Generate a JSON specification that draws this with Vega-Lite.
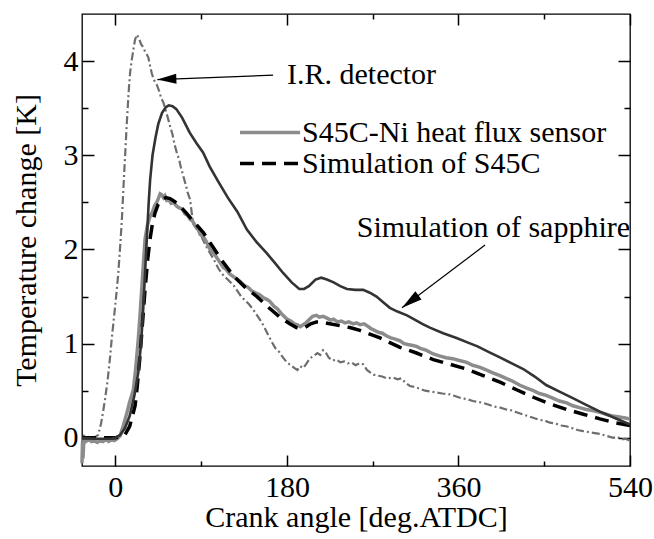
{
  "$schema": "https://vega.github.io/schema/vega-lite/v6.json",
  "width": 548,
  "height": 452,
  "autosize": {"type": "none"},
  "padding": {"left": 82, "top": 14, "right": 24, "bottom": 73},
  "background": "white",
  "config": {
    "view": {"stroke": "#000000", "strokeWidth": 1.3}
  },
  "datasets": {
    "ir": [
      {"crank": -35, "dT": -0.05}, {"crank": -33, "dT": 0.02}, {"crank": -30, "dT": 0.0}, {"crank": -27, "dT": 0.01},
      {"crank": -24, "dT": -0.01}, {"crank": -21, "dT": 0.01}, {"crank": -18, "dT": 0.03}, {"crank": -15, "dT": 0.15},
      {"crank": -12.5, "dT": 0.3}, {"crank": -10.8, "dT": 0.41}, {"crank": -8, "dT": 0.62}, {"crank": -5.5, "dT": 0.86},
      {"crank": -3.8, "dT": 1.05}, {"crank": -1, "dT": 1.32}, {"crank": 1, "dT": 1.52}, {"crank": 3.1, "dT": 1.75},
      {"crank": 5.5, "dT": 2.1}, {"crank": 7, "dT": 2.35}, {"crank": 8.4, "dT": 2.64}, {"crank": 10, "dT": 2.95},
      {"crank": 12, "dT": 3.34}, {"crank": 14, "dT": 3.68}, {"crank": 15.4, "dT": 3.87}, {"crank": 17, "dT": 4.0},
      {"crank": 18.9, "dT": 4.12}, {"crank": 20.5, "dT": 4.22}, {"crank": 22.4, "dT": 4.28}, {"crank": 24.5, "dT": 4.25},
      {"crank": 27, "dT": 4.18}, {"crank": 29, "dT": 4.15}, {"crank": 31.2, "dT": 4.1}, {"crank": 33, "dT": 4.07},
      {"crank": 34.6, "dT": 4.04}, {"crank": 36, "dT": 3.97}, {"crank": 38.2, "dT": 3.87}, {"crank": 40.5, "dT": 3.8},
      {"crank": 43.4, "dT": 3.75}, {"crank": 46, "dT": 3.68}, {"crank": 48, "dT": 3.61}, {"crank": 50.4, "dT": 3.56},
      {"crank": 53, "dT": 3.47}, {"crank": 55, "dT": 3.4}, {"crank": 57.4, "dT": 3.31}, {"crank": 60, "dT": 3.22},
      {"crank": 62, "dT": 3.12}, {"crank": 64.4, "dT": 3.03}, {"crank": 67, "dT": 2.95}, {"crank": 69, "dT": 2.86},
      {"crank": 71.3, "dT": 2.78}, {"crank": 74, "dT": 2.68}, {"crank": 76, "dT": 2.6}, {"crank": 78.4, "dT": 2.53},
      {"crank": 80, "dT": 2.4}, {"crank": 81.8, "dT": 2.27}, {"crank": 85, "dT": 2.22}, {"crank": 88.6, "dT": 2.18},
      {"crank": 92, "dT": 2.1}, {"crank": 96, "dT": 2.02}, {"crank": 100, "dT": 1.95}, {"crank": 104, "dT": 1.88},
      {"crank": 108, "dT": 1.8}, {"crank": 112, "dT": 1.74}, {"crank": 116, "dT": 1.7}, {"crank": 120, "dT": 1.66},
      {"crank": 124, "dT": 1.62}, {"crank": 128, "dT": 1.56}, {"crank": 132, "dT": 1.5}, {"crank": 136, "dT": 1.46},
      {"crank": 140, "dT": 1.42}, {"crank": 144, "dT": 1.37}, {"crank": 148, "dT": 1.31}, {"crank": 152, "dT": 1.25},
      {"crank": 156, "dT": 1.18}, {"crank": 160, "dT": 1.1}, {"crank": 164, "dT": 1.02}, {"crank": 168, "dT": 0.95},
      {"crank": 172, "dT": 0.91}, {"crank": 176, "dT": 0.85}, {"crank": 180, "dT": 0.8}, {"crank": 184, "dT": 0.77},
      {"crank": 188, "dT": 0.74}, {"crank": 191, "dT": 0.72}, {"crank": 194, "dT": 0.76}, {"crank": 197, "dT": 0.74},
      {"crank": 200, "dT": 0.78}, {"crank": 204, "dT": 0.84}, {"crank": 208, "dT": 0.87}, {"crank": 212, "dT": 0.9},
      {"crank": 215, "dT": 0.88}, {"crank": 218, "dT": 0.93}, {"crank": 221, "dT": 0.9}, {"crank": 224, "dT": 0.85},
      {"crank": 228, "dT": 0.82}, {"crank": 232, "dT": 0.83}, {"crank": 236, "dT": 0.8}, {"crank": 240, "dT": 0.81},
      {"crank": 244, "dT": 0.79}, {"crank": 248, "dT": 0.8}, {"crank": 252, "dT": 0.77}, {"crank": 256, "dT": 0.79},
      {"crank": 260, "dT": 0.78}, {"crank": 264, "dT": 0.72}, {"crank": 268, "dT": 0.69}, {"crank": 271, "dT": 0.67},
      {"crank": 275, "dT": 0.66}, {"crank": 280, "dT": 0.65}, {"crank": 285, "dT": 0.63}, {"crank": 291.7, "dT": 0.64},
      {"crank": 296, "dT": 0.62}, {"crank": 300, "dT": 0.63}, {"crank": 305, "dT": 0.58}, {"crank": 309, "dT": 0.55},
      {"crank": 314, "dT": 0.54}, {"crank": 319.7, "dT": 0.52}, {"crank": 325, "dT": 0.5}, {"crank": 331, "dT": 0.49},
      {"crank": 337, "dT": 0.48}, {"crank": 343, "dT": 0.47}, {"crank": 351, "dT": 0.46}, {"crank": 357, "dT": 0.44},
      {"crank": 363, "dT": 0.42}, {"crank": 369, "dT": 0.41}, {"crank": 375, "dT": 0.39}, {"crank": 381, "dT": 0.38},
      {"crank": 386, "dT": 0.37}, {"crank": 392, "dT": 0.35}, {"crank": 398, "dT": 0.33}, {"crank": 404, "dT": 0.32},
      {"crank": 410, "dT": 0.3}, {"crank": 416, "dT": 0.29}, {"crank": 421, "dT": 0.27}, {"crank": 427, "dT": 0.25},
      {"crank": 433, "dT": 0.23}, {"crank": 439, "dT": 0.21}, {"crank": 445, "dT": 0.19}, {"crank": 451, "dT": 0.18},
      {"crank": 456, "dT": 0.16}, {"crank": 462, "dT": 0.15}, {"crank": 468, "dT": 0.13}, {"crank": 474, "dT": 0.12},
      {"crank": 480, "dT": 0.1}, {"crank": 486, "dT": 0.08}, {"crank": 491, "dT": 0.07}, {"crank": 497, "dT": 0.06},
      {"crank": 503, "dT": 0.05}, {"crank": 509, "dT": 0.04}, {"crank": 515, "dT": 0.02}, {"crank": 522.5, "dT": 0.0},
      {"crank": 527, "dT": 0.01}, {"crank": 531, "dT": -0.02}, {"crank": 535, "dT": -0.01}, {"crank": 540, "dT": -0.03}
    ],
    "sapphire": [
      {"crank": -35, "dT": 0.0}, {"crank": -20, "dT": -0.01}, {"crank": -5, "dT": -0.01}, {"crank": 0, "dT": 0.0},
      {"crank": 5, "dT": 0.03}, {"crank": 10, "dT": 0.1}, {"crank": 15, "dT": 0.23}, {"crank": 20, "dT": 0.45},
      {"crank": 24, "dT": 0.69}, {"crank": 27, "dT": 1.0}, {"crank": 29.4, "dT": 1.4}, {"crank": 31, "dT": 1.72},
      {"crank": 33, "dT": 2.11}, {"crank": 35, "dT": 2.5}, {"crank": 36.5, "dT": 2.74}, {"crank": 39, "dT": 3.0},
      {"crank": 42, "dT": 3.18}, {"crank": 45, "dT": 3.33}, {"crank": 49, "dT": 3.45}, {"crank": 53, "dT": 3.51},
      {"crank": 56, "dT": 3.53}, {"crank": 60, "dT": 3.52}, {"crank": 64, "dT": 3.49}, {"crank": 70, "dT": 3.4},
      {"crank": 78, "dT": 3.24}, {"crank": 85, "dT": 3.13}, {"crank": 92, "dT": 3.03}, {"crank": 99, "dT": 2.88},
      {"crank": 108, "dT": 2.72}, {"crank": 118, "dT": 2.55}, {"crank": 128, "dT": 2.4}, {"crank": 138, "dT": 2.21},
      {"crank": 148, "dT": 2.08}, {"crank": 158.8, "dT": 1.96}, {"crank": 168, "dT": 1.85}, {"crank": 176, "dT": 1.75},
      {"crank": 185, "dT": 1.65}, {"crank": 193, "dT": 1.58}, {"crank": 198, "dT": 1.58}, {"crank": 203, "dT": 1.61},
      {"crank": 210, "dT": 1.68}, {"crank": 216, "dT": 1.7}, {"crank": 222, "dT": 1.68}, {"crank": 229, "dT": 1.65},
      {"crank": 236, "dT": 1.61}, {"crank": 243, "dT": 1.58}, {"crank": 252, "dT": 1.57}, {"crank": 260, "dT": 1.57},
      {"crank": 267, "dT": 1.54}, {"crank": 274, "dT": 1.5}, {"crank": 281, "dT": 1.44}, {"crank": 288, "dT": 1.38},
      {"crank": 296, "dT": 1.34}, {"crank": 306, "dT": 1.3}, {"crank": 315, "dT": 1.25}, {"crank": 322, "dT": 1.21},
      {"crank": 330, "dT": 1.17}, {"crank": 344, "dT": 1.11}, {"crank": 358, "dT": 1.06}, {"crank": 370, "dT": 1.01},
      {"crank": 380, "dT": 0.97}, {"crank": 392, "dT": 0.91}, {"crank": 404, "dT": 0.85}, {"crank": 416, "dT": 0.79},
      {"crank": 428, "dT": 0.73}, {"crank": 440, "dT": 0.65}, {"crank": 452, "dT": 0.56}, {"crank": 466, "dT": 0.49},
      {"crank": 480, "dT": 0.42}, {"crank": 494, "dT": 0.35}, {"crank": 508, "dT": 0.28}, {"crank": 524, "dT": 0.21},
      {"crank": 540, "dT": 0.14}
    ],
    "sensor": [
      {"crank": -35, "dT": -0.27}, {"crank": -34.5, "dT": -0.05}, {"crank": -34, "dT": -0.22}, {"crank": -33, "dT": -0.02},
      {"crank": -31, "dT": -0.04}, {"crank": -28, "dT": -0.02}, {"crank": -25, "dT": -0.04}, {"crank": -22, "dT": -0.03},
      {"crank": -19, "dT": -0.05}, {"crank": -16, "dT": -0.03}, {"crank": -13, "dT": -0.04}, {"crank": -10, "dT": -0.02},
      {"crank": -7, "dT": -0.04}, {"crank": -4, "dT": -0.02}, {"crank": -1, "dT": -0.03}, {"crank": 2, "dT": -0.01},
      {"crank": 5, "dT": 0.02}, {"crank": 8.4, "dT": 0.13}, {"crank": 12, "dT": 0.26}, {"crank": 15, "dT": 0.38},
      {"crank": 18.9, "dT": 0.51}, {"crank": 21.5, "dT": 0.75}, {"crank": 24.1, "dT": 1.05}, {"crank": 26, "dT": 1.32},
      {"crank": 27.7, "dT": 1.58}, {"crank": 29.5, "dT": 1.86}, {"crank": 31.2, "dT": 2.11}, {"crank": 33.5, "dT": 2.25},
      {"crank": 36.4, "dT": 2.35}, {"crank": 39, "dT": 2.4}, {"crank": 41, "dT": 2.46}, {"crank": 43.4, "dT": 2.5},
      {"crank": 45.5, "dT": 2.55}, {"crank": 47, "dT": 2.59}, {"crank": 48.7, "dT": 2.58}, {"crank": 50.5, "dT": 2.55},
      {"crank": 52, "dT": 2.57}, {"crank": 53.9, "dT": 2.52}, {"crank": 56, "dT": 2.53}, {"crank": 58.5, "dT": 2.49},
      {"crank": 61, "dT": 2.5}, {"crank": 64.4, "dT": 2.46}, {"crank": 67, "dT": 2.44}, {"crank": 70, "dT": 2.43},
      {"crank": 73, "dT": 2.38}, {"crank": 76, "dT": 2.36}, {"crank": 78.4, "dT": 2.32}, {"crank": 81, "dT": 2.3},
      {"crank": 84, "dT": 2.25}, {"crank": 86, "dT": 2.24}, {"crank": 88.9, "dT": 2.16}, {"crank": 92, "dT": 2.14},
      {"crank": 95, "dT": 2.09}, {"crank": 99.4, "dT": 2.0}, {"crank": 103, "dT": 1.96}, {"crank": 106, "dT": 1.92},
      {"crank": 109.9, "dT": 1.86}, {"crank": 113, "dT": 1.81}, {"crank": 116, "dT": 1.79}, {"crank": 120, "dT": 1.74},
      {"crank": 124, "dT": 1.71}, {"crank": 127, "dT": 1.69}, {"crank": 130.8, "dT": 1.66}, {"crank": 135, "dT": 1.62},
      {"crank": 139, "dT": 1.6}, {"crank": 143, "dT": 1.56}, {"crank": 147, "dT": 1.54}, {"crank": 151, "dT": 1.52},
      {"crank": 155, "dT": 1.49}, {"crank": 158.8, "dT": 1.47}, {"crank": 162, "dT": 1.45}, {"crank": 166, "dT": 1.4},
      {"crank": 170, "dT": 1.37}, {"crank": 174, "dT": 1.32}, {"crank": 177, "dT": 1.29}, {"crank": 180, "dT": 1.26},
      {"crank": 184, "dT": 1.24}, {"crank": 188, "dT": 1.21}, {"crank": 191, "dT": 1.2}, {"crank": 194, "dT": 1.18},
      {"crank": 197, "dT": 1.2}, {"crank": 200, "dT": 1.22}, {"crank": 204, "dT": 1.26}, {"crank": 207, "dT": 1.29},
      {"crank": 211, "dT": 1.3}, {"crank": 214, "dT": 1.28}, {"crank": 218, "dT": 1.29}, {"crank": 222, "dT": 1.27},
      {"crank": 226, "dT": 1.25}, {"crank": 229, "dT": 1.26}, {"crank": 233, "dT": 1.23}, {"crank": 237, "dT": 1.24},
      {"crank": 241, "dT": 1.22}, {"crank": 245, "dT": 1.23}, {"crank": 249.7, "dT": 1.21}, {"crank": 253, "dT": 1.22},
      {"crank": 257, "dT": 1.2}, {"crank": 261, "dT": 1.21}, {"crank": 264, "dT": 1.19}, {"crank": 268, "dT": 1.16},
      {"crank": 272, "dT": 1.14}, {"crank": 276, "dT": 1.12}, {"crank": 280, "dT": 1.11}, {"crank": 284.8, "dT": 1.08},
      {"crank": 289, "dT": 1.06}, {"crank": 293, "dT": 1.05}, {"crank": 298.7, "dT": 1.03}, {"crank": 303, "dT": 1.0},
      {"crank": 307, "dT": 0.99}, {"crank": 312, "dT": 0.98}, {"crank": 316, "dT": 0.97}, {"crank": 320, "dT": 0.95},
      {"crank": 326, "dT": 0.93}, {"crank": 333.6, "dT": 0.89}, {"crank": 340, "dT": 0.87}, {"crank": 347, "dT": 0.85},
      {"crank": 354, "dT": 0.84}, {"crank": 361, "dT": 0.82}, {"crank": 368.7, "dT": 0.8}, {"crank": 375, "dT": 0.77},
      {"crank": 382, "dT": 0.75}, {"crank": 389, "dT": 0.72}, {"crank": 396, "dT": 0.69}, {"crank": 403.6, "dT": 0.66},
      {"crank": 410, "dT": 0.63}, {"crank": 417, "dT": 0.6}, {"crank": 424, "dT": 0.56}, {"crank": 431, "dT": 0.53},
      {"crank": 438.6, "dT": 0.5}, {"crank": 445, "dT": 0.47}, {"crank": 452, "dT": 0.45}, {"crank": 459, "dT": 0.42},
      {"crank": 466, "dT": 0.39}, {"crank": 473.6, "dT": 0.37}, {"crank": 480, "dT": 0.34}, {"crank": 487, "dT": 0.32},
      {"crank": 494, "dT": 0.3}, {"crank": 501, "dT": 0.29}, {"crank": 508.5, "dT": 0.27}, {"crank": 515, "dT": 0.25},
      {"crank": 522, "dT": 0.23}, {"crank": 529, "dT": 0.22}, {"crank": 535, "dT": 0.21}, {"crank": 540, "dT": 0.2}
    ],
    "sims45c": [
      {"crank": -35, "dT": 0.0}, {"crank": -10, "dT": 0.0}, {"crank": 0, "dT": 0.0}, {"crank": 5, "dT": 0.01},
      {"crank": 10, "dT": 0.03}, {"crank": 15, "dT": 0.12}, {"crank": 20.7, "dT": 0.34}, {"crank": 23, "dT": 0.55},
      {"crank": 25.9, "dT": 0.87}, {"crank": 28.5, "dT": 1.22}, {"crank": 31.2, "dT": 1.58}, {"crank": 34, "dT": 1.9},
      {"crank": 36.4, "dT": 2.11}, {"crank": 39, "dT": 2.28}, {"crank": 41.7, "dT": 2.39}, {"crank": 45, "dT": 2.48},
      {"crank": 48.7, "dT": 2.53}, {"crank": 53, "dT": 2.55}, {"crank": 57.4, "dT": 2.54}, {"crank": 62, "dT": 2.51},
      {"crank": 67.9, "dT": 2.46}, {"crank": 75, "dT": 2.38}, {"crank": 81.8, "dT": 2.3}, {"crank": 92.3, "dT": 2.18},
      {"crank": 99.4, "dT": 2.07}, {"crank": 112, "dT": 1.88}, {"crank": 123.8, "dT": 1.72}, {"crank": 136, "dT": 1.6},
      {"crank": 148.4, "dT": 1.5}, {"crank": 160, "dT": 1.39}, {"crank": 172.8, "dT": 1.28}, {"crank": 183, "dT": 1.21},
      {"crank": 190, "dT": 1.17}, {"crank": 194, "dT": 1.16}, {"crank": 199, "dT": 1.17}, {"crank": 205, "dT": 1.21},
      {"crank": 211, "dT": 1.23}, {"crank": 215, "dT": 1.23}, {"crank": 225, "dT": 1.21}, {"crank": 235.8, "dT": 1.19},
      {"crank": 246, "dT": 1.17}, {"crank": 256.7, "dT": 1.14}, {"crank": 267, "dT": 1.1}, {"crank": 277.7, "dT": 1.06},
      {"crank": 288, "dT": 1.01}, {"crank": 298.7, "dT": 0.96}, {"crank": 316, "dT": 0.9}, {"crank": 333.6, "dT": 0.83},
      {"crank": 351, "dT": 0.78}, {"crank": 368.7, "dT": 0.73}, {"crank": 386, "dT": 0.66}, {"crank": 403.6, "dT": 0.59},
      {"crank": 421, "dT": 0.51}, {"crank": 438.6, "dT": 0.43}, {"crank": 456, "dT": 0.36}, {"crank": 473.6, "dT": 0.3},
      {"crank": 491, "dT": 0.25}, {"crank": 508.5, "dT": 0.2}, {"crank": 524, "dT": 0.16}, {"crank": 540, "dT": 0.13}
    ],
    "key": [
      {"name": "S45C-Ni heat flux sensor", "crank": 130.8, "crank2": 193.8, "dT": 3.241, "textCrank": 195.9},
      {"name": "Simulation of S45C", "crank": 130.8, "crank2": 193.8, "dT": 2.912, "textCrank": 195.9}
    ],
    "notes": [
      {"name": "I.R. detector", "crank": 180.1, "dT": 3.761},
      {"name": "Simulation of sapphire", "crank": 253.3, "dT": 2.127}
    ],
    "arrows": [
      {"name": "I.R. detector", "crank": 165.5, "dT": 3.85, "tipCrank": 44.07, "tipDT": 3.804},
      {"name": "Simulation of sapphire", "crank": 387.9, "dT": 2.046, "tipCrank": 300.8, "tipDT": 1.381}
    ]
  },
  "resolve": {"axis": {"x": "independent", "y": "independent"}},
  "layer": [
    {
      "data": {"name": "ir"},
      "mark": {"type": "line", "stroke": "#6e6e6e", "strokeWidth": 2.2, "strokeDash": [8, 3, 2, 3]},
      "encoding": {
        "x": {"field": "crank", "type": "quantitative", "scale": {"domain": [-35, 540], "nice": false, "zero": false},
          "axis": {"orient": "bottom", "values": [0, 180, 360, 540], "grid": false, "domain": false, "tickColor": "black", "tickWidth": 1.5, "tickSize": 11, "offset": -11, "labelPadding": 6, "labelFont": "Liberation Serif", "labelFontSize": 30, "labelColor": "black", "labelFlush": false, "title": "Crank angle [deg.ATDC]", "titleFont": "Liberation Serif", "titleFontSize": 30, "titleFontWeight": "normal", "titleColor": "black", "titlePadding": 0}},
        "y": {"field": "dT", "type": "quantitative", "scale": {"domain": [-0.3, 4.5], "nice": false, "zero": false},
          "axis": {"orient": "left", "values": [0, 1, 2, 3, 4], "grid": false, "domain": false, "tickColor": "black", "tickWidth": 1.5, "tickSize": 12, "offset": -12, "labelPadding": 4, "labelFont": "Liberation Serif", "labelFontSize": 30, "labelColor": "black", "title": "Temperature change [K]", "titleFont": "Liberation Serif", "titleFontSize": 30, "titleFontWeight": "normal", "titleColor": "black", "titlePadding": 22}}
      }
    },
    {
      "data": {"name": "sensor"},
      "mark": {"type": "line", "stroke": "#8c8c8c", "strokeWidth": 3.5},
      "encoding": {
        "x": {"field": "crank", "type": "quantitative",
          "axis": {"orient": "bottom", "values": [90, 270, 450], "grid": false, "domain": false, "tickColor": "black", "tickWidth": 1.5, "tickSize": 5, "offset": -5, "labels": false, "title": null}},
        "y": {"field": "dT", "type": "quantitative",
          "axis": {"orient": "left", "values": [0.5, 1.5, 2.5, 3.5], "grid": false, "domain": false, "tickColor": "black", "tickWidth": 1.5, "tickSize": 6, "offset": -6, "labels": false, "title": null}}
      }
    },
    {
      "data": {"name": "sims45c"},
      "mark": {"type": "line", "stroke": "#000000", "strokeWidth": 3.5, "strokeDash": [14, 8]},
      "encoding": {
        "x": {"field": "crank", "type": "quantitative",
          "axis": {"orient": "top", "values": [0, 180, 360, 540], "grid": false, "domain": false, "tickColor": "black", "tickWidth": 1.5, "tickSize": 11, "offset": -11, "labels": false, "title": null}},
        "y": {"field": "dT", "type": "quantitative",
          "axis": {"orient": "right", "values": [0, 1, 2, 3, 4], "grid": false, "domain": false, "tickColor": "black", "tickWidth": 1.5, "tickSize": 12, "offset": -12, "labels": false, "title": null}}
      }
    },
    {
      "data": {"name": "sapphire"},
      "mark": {"type": "line", "stroke": "#333333", "strokeWidth": 2.6},
      "encoding": {
        "x": {"field": "crank", "type": "quantitative",
          "axis": {"orient": "top", "values": [90, 270, 450], "grid": false, "domain": false, "tickColor": "black", "tickWidth": 1.5, "tickSize": 5, "offset": -5, "labels": false, "title": null}},
        "y": {"field": "dT", "type": "quantitative",
          "axis": {"orient": "right", "values": [0.5, 1.5, 2.5, 3.5], "grid": false, "domain": false, "tickColor": "black", "tickWidth": 1.5, "tickSize": 6, "offset": -6, "labels": false, "title": null}}
      }
    },
    {
      "data": {"name": "key"},
      "transform": [{"filter": "datum.name === 'S45C-Ni heat flux sensor'"}],
      "mark": {"type": "rule", "stroke": "#8c8c8c", "strokeWidth": 3.5},
      "encoding": {
        "x": {"field": "crank", "type": "quantitative", "axis": null},
        "x2": {"field": "crank2"},
        "y": {"field": "dT", "type": "quantitative", "axis": null}
      }
    },
    {
      "data": {"name": "key"},
      "transform": [{"filter": "datum.name === 'Simulation of S45C'"}],
      "mark": {"type": "rule", "stroke": "#000000", "strokeWidth": 3.5, "strokeDash": [14, 8]},
      "encoding": {
        "x": {"field": "crank", "type": "quantitative", "axis": null},
        "x2": {"field": "crank2"},
        "y": {"field": "dT", "type": "quantitative", "axis": null}
      }
    },
    {
      "data": {"name": "key"},
      "mark": {"type": "text", "align": "left", "baseline": "middle", "font": "Liberation Serif", "fontSize": 30, "color": "#000000"},
      "encoding": {
        "x": {"field": "textCrank", "type": "quantitative", "axis": null},
        "y": {"field": "dT", "type": "quantitative", "axis": null},
        "text": {"field": "name", "type": "nominal"}
      }
    },
    {
      "data": {"name": "notes"},
      "mark": {"type": "text", "align": "left", "baseline": "alphabetic", "font": "Liberation Serif", "fontSize": 30, "color": "#000000"},
      "encoding": {
        "x": {"field": "crank", "type": "quantitative", "axis": null},
        "y": {"field": "dT", "type": "quantitative", "axis": null},
        "text": {"field": "name", "type": "nominal"}
      }
    },
    {
      "data": {"name": "arrows"},
      "mark": {"type": "rule", "color": "#000000", "strokeWidth": 1.2},
      "encoding": {
        "x": {"field": "crank", "type": "quantitative", "axis": null},
        "y": {"field": "dT", "type": "quantitative", "axis": null},
        "x2": {"field": "tipCrank"},
        "y2": {"field": "tipDT"}
      }
    },
    {
      "data": {"name": "arrows"},
      "transform": [{"filter": "datum.name === 'I.R. detector'"}],
      "mark": {"type": "point", "shape": "M0,0L1.978,-0.606L2.019,0.453Z", "size": 361, "filled": true, "color": "#000000", "opacity": 1},
      "encoding": {
        "x": {"field": "tipCrank", "type": "quantitative", "axis": null},
        "y": {"field": "tipDT", "type": "quantitative", "axis": null}
      }
    },
    {
      "data": {"name": "arrows"},
      "transform": [{"filter": "datum.name === 'Simulation of sapphire'"}],
      "mark": {"type": "point", "shape": "M0,0L1.302,-1.598L1.901,-0.798Z", "size": 420, "filled": true, "color": "#000000", "opacity": 1},
      "encoding": {
        "x": {"field": "tipCrank", "type": "quantitative", "axis": null},
        "y": {"field": "tipDT", "type": "quantitative", "axis": null}
      }
    }
  ]
}
